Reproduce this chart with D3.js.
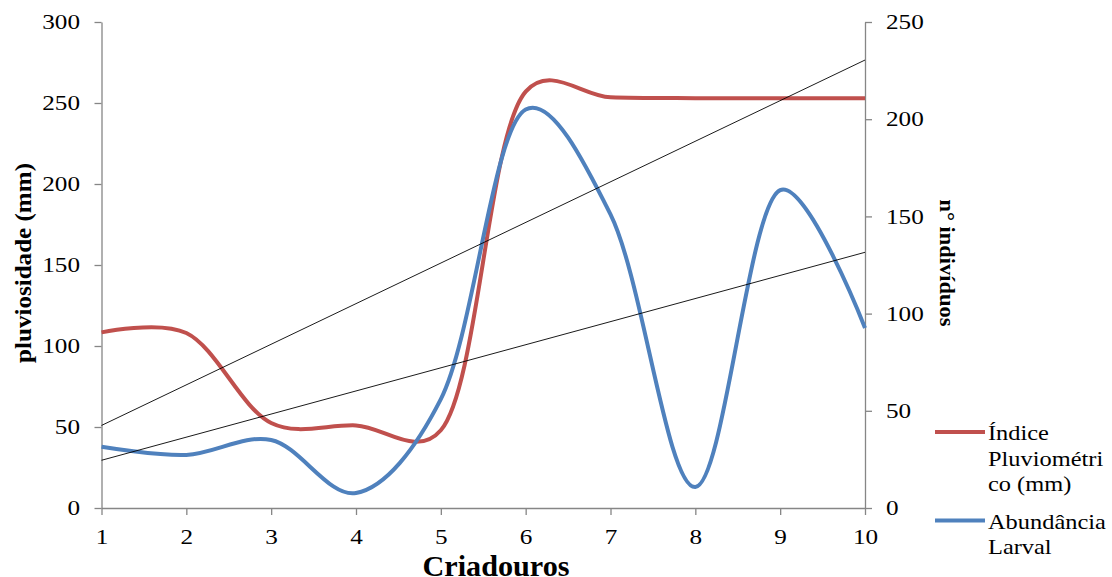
<!DOCTYPE html>
<html>
<head>
<meta charset="utf-8">
<script src="https://cdn.jsdelivr.net/npm/d3@7"></script>
<style>
  body { margin: 0; background: #fff; }
  svg { display: block; font-family: "Liberation Serif", "Times New Roman", serif; }
</style>
</head>
<body>
<div id="chart"></div>
<script>
// Data
const criadouros = [1, 2, 3, 4, 5, 6, 7, 8, 9, 10];
const pluviometrico = [108.4, 108, 52.5, 51, 48, 257, 253.5, 253, 253, 253];   // left axis (mm)
const abundancia = [31.5, 27.3, 35, 7.7, 56, 205, 151, 10.8, 163.5, 92.6];     // right axis (n° indivíduos)
const leftTicks = [0, 50, 100, 150, 200, 250, 300];
const rightTicks = [0, 50, 100, 150, 200, 250];
const legendItems = [
  { lines: ['Índice', 'Pluviométri', 'co (mm)'], color: '#C0504D' },
  { lines: ['Abundância', 'Larval'], color: '#4F81BD' }
];

const width = 1112, height = 577;
const plot = { left: 101.5, right: 865, top: 22, bottom: 508 };
const axisColor = '#868686';
const stretch = 1.2; // text in the reference looks horizontally widened

const svg = d3.select('#chart').append('svg')
  .attr('width', width)
  .attr('height', height);

const x = d3.scaleLinear().domain([1, 10]).range([plot.left, plot.right]);
const yL = d3.scaleLinear().domain([0, 300]).range([plot.bottom, plot.top]);
const yR = d3.scaleLinear().domain([0, 250]).range([plot.bottom, plot.top]);

// Axes
function styleAxis(g) {
  g.attr('font-family', '"Liberation Serif", "Times New Roman", serif');
  g.select('.domain').attr('stroke', axisColor).attr('stroke-width', 1.3);
  g.selectAll('.tick line').attr('stroke', axisColor).attr('stroke-width', 1.3);
  g.selectAll('.tick text').attr('fill', '#000').attr('font-size', 21);
}

const gx = svg.append('g')
  .attr('transform', `translate(0,${plot.bottom})`)
  .call(d3.axisBottom(x).tickValues(criadouros).tickSize(7).tickSizeOuter(0).tickPadding(14))
  .call(styleAxis);
gx.selectAll('.tick text').attr('transform', `scale(${stretch},1)`);

const gl = svg.append('g')
  .attr('transform', `translate(${plot.left},0)`)
  .call(d3.axisLeft(yL).tickValues(leftTicks).tickSize(7).tickSizeOuter(0))
  .call(styleAxis);
gl.selectAll('.tick text').attr('x', -21.5 / stretch).attr('transform', `scale(${stretch},1)`);

const gr = svg.append('g')
  .attr('transform', `translate(${plot.right},0)`)
  .call(d3.axisRight(yR).tickValues(rightTicks).tickSize(7).tickSizeOuter(0))
  .call(styleAxis);
gr.selectAll('.tick text').attr('x', 21 / stretch).attr('transform', `scale(${stretch},1)`);

// Linear trend lines (least squares)
function trend(xs, ys) {
  const mx = d3.mean(xs), my = d3.mean(ys);
  const slope = d3.sum(xs, (v, i) => (v - mx) * (ys[i] - my)) / d3.sum(xs, v => (v - mx) ** 2);
  const b = my - slope * mx;
  return [xs[0], xs[xs.length - 1]].map(v => [v, b + slope * v]);
}

// Excel-like smoothing
const curve = d3.curveCatmullRom.alpha(0.3);

const lineL = d3.line().x(d => x(d[0])).y(d => yL(d[1]));
const lineR = d3.line().x(d => x(d[0])).y(d => yR(d[1]));

svg.append('path')
  .attr('d', lineL.curve(curve)(criadouros.map((c, i) => [c, pluviometrico[i]])))
  .attr('fill', 'none').attr('stroke', '#C0504D').attr('stroke-width', 4);

svg.append('path')
  .attr('d', lineR.curve(curve)(criadouros.map((c, i) => [c, abundancia[i]])))
  .attr('fill', 'none').attr('stroke', '#4F81BD').attr('stroke-width', 4);

svg.append('path')
  .attr('d', lineL.curve(d3.curveLinear)(trend(criadouros, pluviometrico)))
  .attr('fill', 'none').attr('stroke', '#000').attr('stroke-width', 0.9);

svg.append('path')
  .attr('d', lineR.curve(d3.curveLinear)(trend(criadouros, abundancia)))
  .attr('fill', 'none').attr('stroke', '#000').attr('stroke-width', 0.9);

// Axis titles
svg.append('text')
  .attr('transform', 'translate(31,263) rotate(-90)')
  .attr('text-anchor', 'middle')
  .attr('font-size', 24).attr('font-weight', 'bold')
  .attr('textLength', 200).attr('lengthAdjust', 'spacingAndGlyphs')
  .text('pluviosidade (mm)');

svg.append('text')
  .attr('transform', 'translate(940,263) rotate(90)')
  .attr('text-anchor', 'middle')
  .attr('font-size', 22).attr('font-weight', 'bold')
  .attr('textLength', 127).attr('lengthAdjust', 'spacingAndGlyphs')
  .text('n° indivíduos');

svg.append('text')
  .attr('x', 496).attr('y', 576)
  .attr('text-anchor', 'middle')
  .attr('font-size', 29).attr('font-weight', 'bold')
  .attr('textLength', 147).attr('lengthAdjust', 'spacingAndGlyphs')
  .text('Criadouros');

// Legend
const legend = svg.append('g');
const legendTop = [432, 520.5];
legendItems.forEach((item, i) => {
  const g = legend.append('g').attr('transform', `translate(935,${legendTop[i]})`);
  g.append('line')
    .attr('x1', 0).attr('x2', 50)
    .attr('stroke', item.color).attr('stroke-width', 4);
  item.lines.forEach((t, j) => {
    g.append('text')
      .attr('transform', `translate(53,${8 + j * 25.5}) scale(1.22,1)`)
      .attr('font-size', 20)
      .text(t);
  });
});
</script>
</body>
</html>
